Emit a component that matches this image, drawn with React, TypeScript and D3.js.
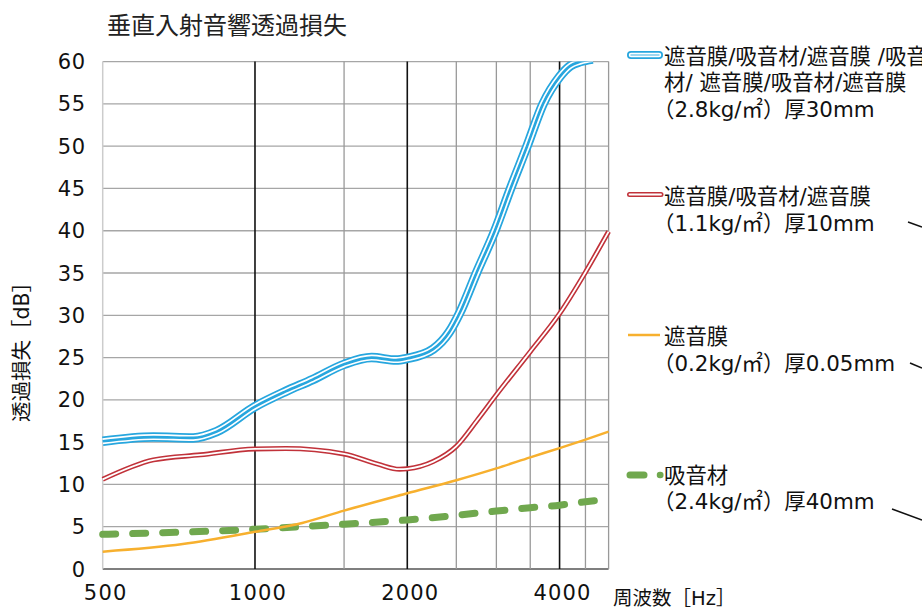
import React from "react";
import * as d3 from "d3";

const title = "垂直入射音響透過損失";
const yLabel = "透過損失［dB］";
const xLabel = "周波数［Hz］";
const yTicks = [0, 5, 10, 15, 20, 25, 30, 35, 40, 45, 50, 55, 60];
const xTickLabels = [500, 1000, 2000, 4000];
const majorGrid = [1000, 2000, 4000];
const minorGrid = [1500, 2500, 3000, 3500, 4500];

const blueF = [500, 630, 755, 840, 1000, 1150, 1300, 1500, 1700, 1900, 2000, 2250, 2420, 2540, 2740, 2980, 3200, 3450, 3710, 4000, 4200, 4400, 4650];
const blueV = [15.1, 15.6, 15.5, 16.25, 19.2, 21.0, 22.4, 24.2, 25.0, 24.7, 24.9, 26.0, 28.0, 30.3, 35.0, 40.0, 45.0, 50.0, 55.0, 58.2, 59.5, 60.0, 60.3];
const redF = [500, 630, 780, 1000, 1150, 1500, 1750, 1930, 2000, 2250, 2500, 2750, 3000, 3500, 4000, 4500, 5000];
const redV = [10.6, 12.9, 13.5, 14.2, 14.25, 13.6, 12.4, 11.8, 11.85, 12.7, 14.5, 17.6, 20.6, 25.7, 30.2, 35.1, 39.9];
const orangeF = [500, 720, 1000, 1240, 1500, 2000, 2500, 3000, 3500, 4000, 4500, 5000];
const orangeV = [2.05, 2.95, 4.4, 5.45, 6.9, 8.95, 10.5, 11.9, 13.2, 14.3, 15.3, 16.25];
const greenF = [500, 1000, 1500, 2000, 2500, 3000, 3500, 4000, 4500, 4950];
const greenV = [4.1, 4.7, 5.3, 5.8, 6.35, 6.85, 7.25, 7.55, 7.95, 8.25];

const legendBlue = ["遮音膜/吸音材/遮音膜 /吸音", "材/ 遮音膜/吸音材/遮音膜", "（2.8kg/㎡）厚30mm"];
const legendRed = ["遮音膜/吸音材/遮音膜", "（1.1kg/㎡）厚10mm"];
const legendOrange = ["遮音膜", "（0.2kg/㎡）厚0.05mm"];
const legendGreen = ["吸音材", "（2.4kg/㎡）厚40mm"];

const CJK = "'Noto Sans CJK JP', sans-serif";
const MIX = "'DejaVu Sans', 'Noto Sans CJK JP', sans-serif";
const BLUE = "#27a6de";
const RED = "#c1323a";
const ORANGE = "#f7b02e";
const GREEN = "#70a84e";

export default function App() {
  const L = 102.7, R = 608.6, T = 61.6, B = 569;
  const x = d3.scaleLog().domain([500, 5000]).range([L, R]);
  const y = d3.scaleLinear().domain([0, 60]).range([B, T]);
  const line = d3
    .line<[number, number]>()
    .x((d) => x(d[0]))
    .y((d) => y(d[1]))
    .curve(d3.curveMonotoneX);
  const zip = (f: number[], v: number[]) => f.map((ff, i) => [ff, v[i]] as [number, number]);
  const bluePath = line(zip(blueF, blueV)) || "";
  const redPath = line(zip(redF, redV)) || "";
  const orangePath = line(zip(orangeF, orangeV)) || "";
  const greenPath = line(zip(greenF, greenV)) || "";

  const legendX = 664;
  const parenX = 653;
  const lh = 26.7;
  const fs = 21.4;
  const lx = (s: string) => (s.startsWith("（") ? parenX : legendX);

  return (
    <svg width={922} height={608} style={{ position: "absolute", left: 0, top: 0, background: "#fff" }} fontFamily={MIX}>
      <defs>
        <clipPath id="plotClip">
          <rect x={L - 5} y={T} width={R - L + 10} height={B - T + 10} />
        </clipPath>
      </defs>
      <rect x={0} y={0} width={922} height={608} fill="#fff" />
      <text x={107} y={34} fontSize={24} fontFamily={CJK} fill="#222">{title}</text>

      {/* grid */}
      {yTicks.map((t) => (
        <line key={"h" + t} x1={L} x2={R} y1={y(t)} y2={y(t)} stroke={t === 0 ? "#555" : "#a6a6a6"} strokeWidth={1.3} />
      ))}
      {minorGrid.map((f) => (
        <line key={"m" + f} x1={x(f)} x2={x(f)} y1={T} y2={B} stroke="#999" strokeWidth={1.3} />
      ))}
      <line x1={L} x2={L} y1={T} y2={B} stroke="#ccc" strokeWidth={1.5} />
      <line x1={R} x2={R} y1={T} y2={B} stroke="#999" strokeWidth={1.3} />
      {majorGrid.map((f) => (
        <line key={"M" + f} x1={x(f)} x2={x(f)} y1={T} y2={B} stroke="#111" strokeWidth={1.6} />
      ))}

      {/* tick labels */}
      {yTicks.map((t) => (
        <text key={"yt" + t} x={86} y={y(t) + 7.6} fontSize={21} textAnchor="end" fill="#111" letterSpacing={0.8}>{t}</text>
      ))}
      {xTickLabels.map((t) => (
        <text key={"xt" + t} x={x(t) + 3} y={600} fontSize={21} textAnchor="middle" fill="#111" letterSpacing={1.2}>{t}</text>
      ))}
      <text x={613} y={604.5} fontSize={19.5} fill="#111">{xLabel}</text>
      <text transform={`translate(29,${347}) rotate(-90)`} fontSize={20.5} textAnchor="middle" fill="#111">{yLabel}</text>

      {/* curves */}
      <g clipPath="url(#plotClip)" fill="none">
        <path d={greenPath} stroke={GREEN} strokeWidth={7} strokeDasharray="13 17" strokeLinecap="round" />
        <path d={orangePath} stroke={ORANGE} strokeWidth={2.5} />
        <path d={redPath} stroke={RED} strokeWidth={5} />
        <path d={redPath} stroke="#fff" strokeWidth={1.8} />
        <path d={bluePath} stroke={BLUE} strokeWidth={9.5} />
        <path d={bluePath} stroke="#fff" strokeWidth={6} />
        <path d={bluePath} stroke={BLUE} strokeWidth={2.6} />
      </g>

      {/* legend samples */}
      <g fill="none">
        <line x1={631} x2={659} y1={55} y2={55} stroke={BLUE} strokeWidth={8} strokeLinecap="round" />
        <line x1={631} x2={659} y1={55} y2={55} stroke="#fff" strokeWidth={4.5} strokeLinecap="round" />
        <line x1={631} x2={659} y1={55} y2={55} stroke="#7fcbed" strokeWidth={1.5} strokeLinecap="round" />
        <line x1={629.5} x2={661} y1={194.5} y2={194.5} stroke={RED} strokeWidth={5} strokeLinecap="round" />
        <line x1={629.5} x2={661} y1={194.5} y2={194.5} stroke="#fff" strokeWidth={1.8} strokeLinecap="round" />
        <line x1={628} x2={660} y1={335} y2={335} stroke={ORANGE} strokeWidth={2.5} />
        <line x1={630} x2={644} y1={475} y2={475} stroke={GREEN} strokeWidth={7} strokeLinecap="round" />
        <line x1={660} x2={660.3} y1={475} y2={475} stroke={GREEN} strokeWidth={6.5} strokeLinecap="round" />
      </g>
      {legendBlue.map((s, i) => (
        <text key={"lb" + i} x={lx(s)} y={63.5 + i * lh} fontSize={fs} fill="#111">{s}</text>
      ))}
      {legendRed.map((s, i) => (
        <text key={"lr" + i} x={lx(s)} y={204 + i * lh} fontSize={fs} fill="#111">{s}</text>
      ))}
      {legendOrange.map((s, i) => (
        <text key={"lo" + i} x={lx(s)} y={344 + i * lh} fontSize={fs} fill="#111">{s}</text>
      ))}
      {legendGreen.map((s, i) => (
        <text key={"lg" + i} x={lx(s)} y={482.5 + i * lh} fontSize={fs} fill="#111">{s}</text>
      ))}
      {/* leader lines */}
      <g stroke="#111" strokeWidth={1.6}>
        <line x1={908} y1={222} x2={922} y2={227} />
        <line x1={910} y1={363} x2={922} y2={368} />
        <line x1={892} y1={509} x2={922} y2={520} />
      </g>
    </svg>
  );
}
